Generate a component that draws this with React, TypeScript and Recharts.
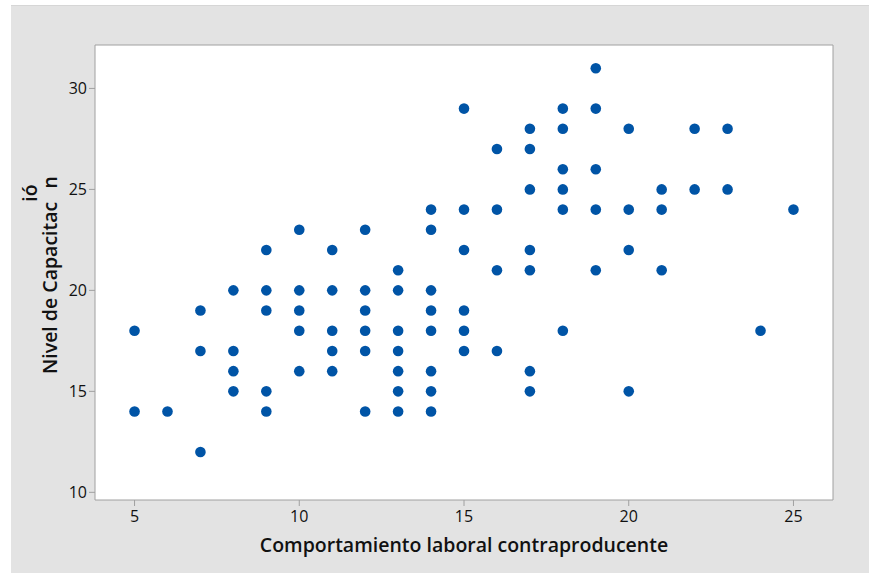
import {
  ScatterChart,
  Scatter,
  XAxis,
  YAxis,
  CartesianGrid,
  ReferenceArea,
} from "recharts";

// Comportamiento laboral contraproducente (x) and Nivel de Capacitación (y), paired
const comportamiento = [
  5, 5,
  6,
  7, 7, 7,
  8, 8, 8, 8,
  9, 9, 9, 9, 9,
  10, 10, 10, 10, 10,
  11, 11, 11, 11, 11,
  12, 12, 12, 12, 12, 12,
  13, 13, 13, 13, 13, 13, 13,
  14, 14, 14, 14, 14, 14, 14, 14,
  15, 15, 15, 15, 15, 15,
  16, 16, 16, 16,
  17, 17, 17, 17, 17, 17, 17,
  18, 18, 18, 18, 18, 18,
  19, 19, 19, 19, 19,
  20, 20, 20, 20,
  21, 21, 21,
  22, 22,
  23, 23,
  24,
  25,
];

const capacitacion = [
  18, 14,
  14,
  19, 17, 12,
  20, 17, 16, 15,
  22, 20, 19, 15, 14,
  23, 20, 19, 18, 16,
  22, 20, 18, 17, 16,
  23, 20, 19, 18, 17, 14,
  21, 20, 18, 17, 16, 15, 14,
  24, 23, 20, 19, 18, 16, 15, 14,
  29, 24, 22, 19, 18, 17,
  27, 24, 21, 17,
  28, 27, 25, 22, 21, 16, 15,
  29, 28, 26, 25, 24, 18,
  31, 29, 26, 24, 21,
  28, 24, 22, 15,
  25, 24, 21,
  28, 25,
  28, 25,
  18,
  24,
];

const xTicks = [5, 10, 15, 20, 25];
const yTicks = [10, 15, 20, 25, 30];
const xDomain: [number, number] = [3.8, 26.2];
const yDomain: [number, number] = [9.62, 32.15];

const FONT = "'Open Sans', 'Noto Sans', sans-serif";
const DOT = "#0054A6";
const EDGE = "#A0A0A0";

const data = comportamiento.map((x, i) => ({ x, y: capacitacion[i] }));

const tickStyle = { fontSize: 16, fill: "#111", fontFamily: FONT };

function Dot(props: any) {
  return <circle cx={props.cx} cy={props.cy} r={5.3} fill={DOT} />;
}

export default function App() {
  return (
    <div
      style={{
        position: "absolute",
        left: 11,
        top: 5,
        width: 858,
        height: 568,
        background: "#E3E3E3",
        borderTop: "1px solid #D6D6D6",
      }}
    >
      <ScatterChart
        width={858}
        height={567}
        margin={{ top: 39, right: 36, bottom: 0, left: 0 }}
      >
        <CartesianGrid fill="#FFFFFF" horizontal={false} vertical={false} />
        <XAxis
          dataKey="x"
          type="number"
          domain={xDomain}
          ticks={xTicks}
          height={73}
          axisLine={false}
          tickLine={{ stroke: EDGE }}
          tickSize={6}
          tickMargin={5}
          tick={tickStyle}
          label={{
            content: () => (
              <text
                x={453}
                y={546}
                textAnchor="middle"
                fontFamily={FONT}
                fontSize={19.5}
                fontWeight={600}
                fill="#111"
              >
                Comportamiento laboral contraproducente
              </text>
            ),
          }}
        />
        <YAxis
          dataKey="y"
          type="number"
          domain={yDomain}
          ticks={yTicks}
          width={84}
          axisLine={false}
          tickLine={{ stroke: EDGE }}
          tickSize={6}
          tickMargin={2}
          tick={tickStyle}
          label={{
            content: () => (
              <text
                x={46}
                y={368}
                transform="rotate(-90, 46, 368)"
                textAnchor="start"
                fontFamily={FONT}
                fontSize={19.5}
                fontWeight={600}
                fill="#111"
              >
                Nivel de Capacitac
                <tspan dy={-20}>ió</tspan>
                <tspan dx={-4} dy={20}>n</tspan>
              </text>
            ),
          }}
        />
        <ReferenceArea
          x1={xDomain[0]}
          x2={xDomain[1]}
          y1={yDomain[0]}
          y2={yDomain[1]}
          fill="none"
          stroke={EDGE}
          strokeWidth={1}
        />
        <Scatter data={data} shape={Dot} isAnimationActive={false} />
      </ScatterChart>
    </div>
  );
}
